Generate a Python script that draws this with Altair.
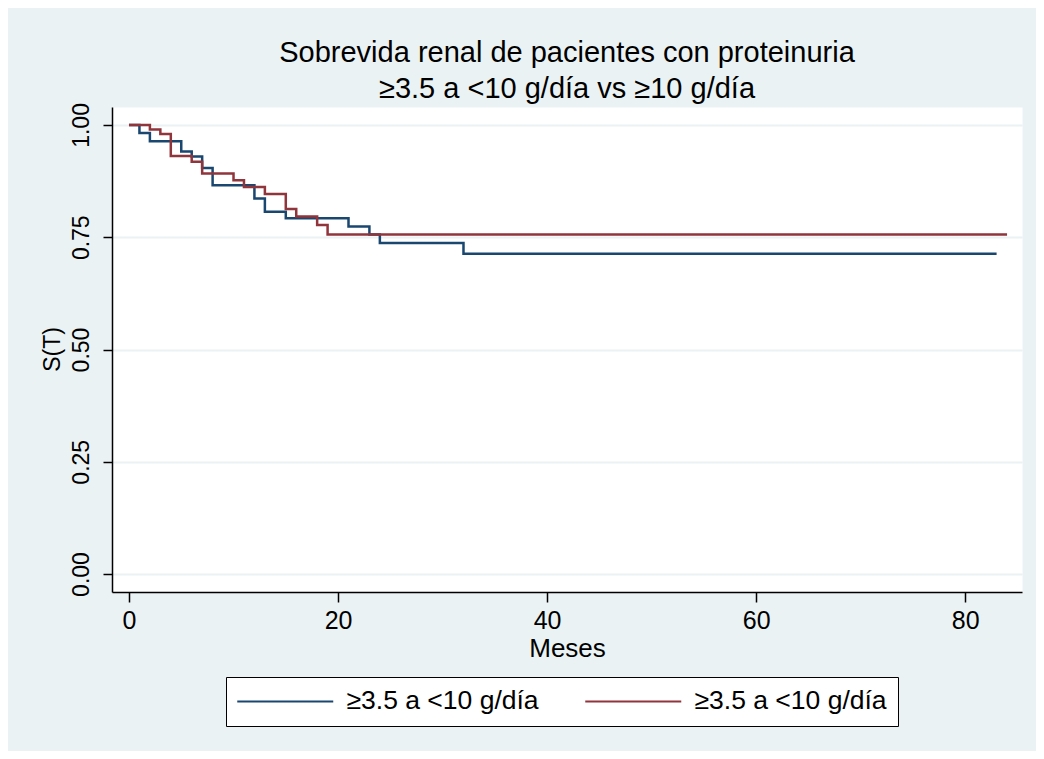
import altair as alt
import pandas as pd

# Kaplan-Meier step curves (months, survival)
blue_t = [0, 1, 2, 5, 6, 7, 8, 12, 13, 15, 21, 23, 24, 32, 83]
blue_s = [1.0, 0.982, 0.964, 0.941, 0.930, 0.904, 0.866, 0.836, 0.807, 0.792, 0.774, 0.756, 0.737, 0.713, 0.713]
red_t = [0, 2, 3, 4, 6, 7, 10, 11, 13, 15, 16, 18, 19, 84]
red_s = [1.0, 0.990, 0.980, 0.931, 0.918, 0.892, 0.877, 0.862, 0.846, 0.813, 0.796, 0.777, 0.756, 0.756]

groups = ["g1", "g2"]
group_label = "≥3.5 a <10 g/día"
colors = ["#1a476f", "#90353b"]
x_ticks = [0, 20, 40, 60, 80]
y_ticks = [0, 0.25, 0.5, 0.75, 1.0]
title_lines = ["Sobrevida renal de pacientes con proteinuria", "≥3.5 a <10 g/día vs ≥10 g/día"]

rows = [{"t": t, "s": s, "g": groups[0]} for t, s in zip(blue_t, blue_s)]
rows += [{"t": t, "s": s, "g": groups[1]} for t, s in zip(red_t, red_s)]
df = pd.DataFrame(rows)

FONT = "Liberation Sans"

chart = alt.Chart(df).mark_line(interpolate="step-after", strokeWidth=2.5).encode(
    x=alt.X(
        "t:Q",
        scale=alt.Scale(domain=[-1.625, 85.43], nice=False, zero=False),
        axis=alt.Axis(
            values=x_ticks, title="Meses", grid=False,
            domainColor="black", domainWidth=1.5,
            tickColor="black", tickSize=10, tickWidth=1.5,
            labelFont=FONT, labelFontSize=25, labelColor="black", labelPadding=6,
            titleFont=FONT, titleFontSize=26, titleColor="black", titleFontWeight="normal",
            titlePadding=2,
        ),
    ),
    y=alt.Y(
        "s:Q",
        scale=alt.Scale(domain=[-0.04, 1.04], nice=False, zero=False),
        axis=alt.Axis(
            values=y_ticks, format=".2f", title="S(T)",
            grid=True, gridColor="#EAF2F3", gridWidth=2,
            domainColor="black", domainWidth=1.5,
            tickColor="black", tickSize=9, tickWidth=1.5,
            labelAngle=270, labelAlign="center", labelBaseline="bottom",
            labelFont=FONT, labelFontSize=23, labelColor="black", labelPadding=10,
            titleFont=FONT, titleFontSize=23, titleColor="black", titleFontWeight="normal",
            titleAngle=270, titleAlign="center", titleBaseline="bottom",
            titleX=-48, titleY=242,
        ),
    ),
    color=alt.Color(
        "g:N",
        scale=alt.Scale(domain=groups, range=colors),
        legend=alt.Legend(
            title=None, orient="none", legendX=114, legendY=570,
            direction="horizontal", columns=2,
            symbolType="M-3.25,0H20.75", symbolSize=64, symbolStrokeWidth=2,
            labelExpr="'" + group_label + "'",
            labelFont=FONT, labelFontSize=26.5, labelColor="black", labelLimit=0,
            labelOffset=83, columnPadding=42, padding=11,
            strokeColor="black", fillColor="white",
        ),
    ),
).properties(
    width=910,
    height=485,
    title=alt.Title(
        title_lines, font=FONT, fontSize=29, fontWeight="normal", color="black",
        anchor="middle", offset=-1, lineHeight=36,
    ),
    autosize=alt.AutoSizeParams(type="none"),
    padding={"left": 104, "top": 99, "right": 14, "bottom": 159},
    background="#EAF2F3",
).configure_view(fill="white", stroke="transparent")

chart.save("out.html", embed_options={"renderer": "svg", "actions": False})
